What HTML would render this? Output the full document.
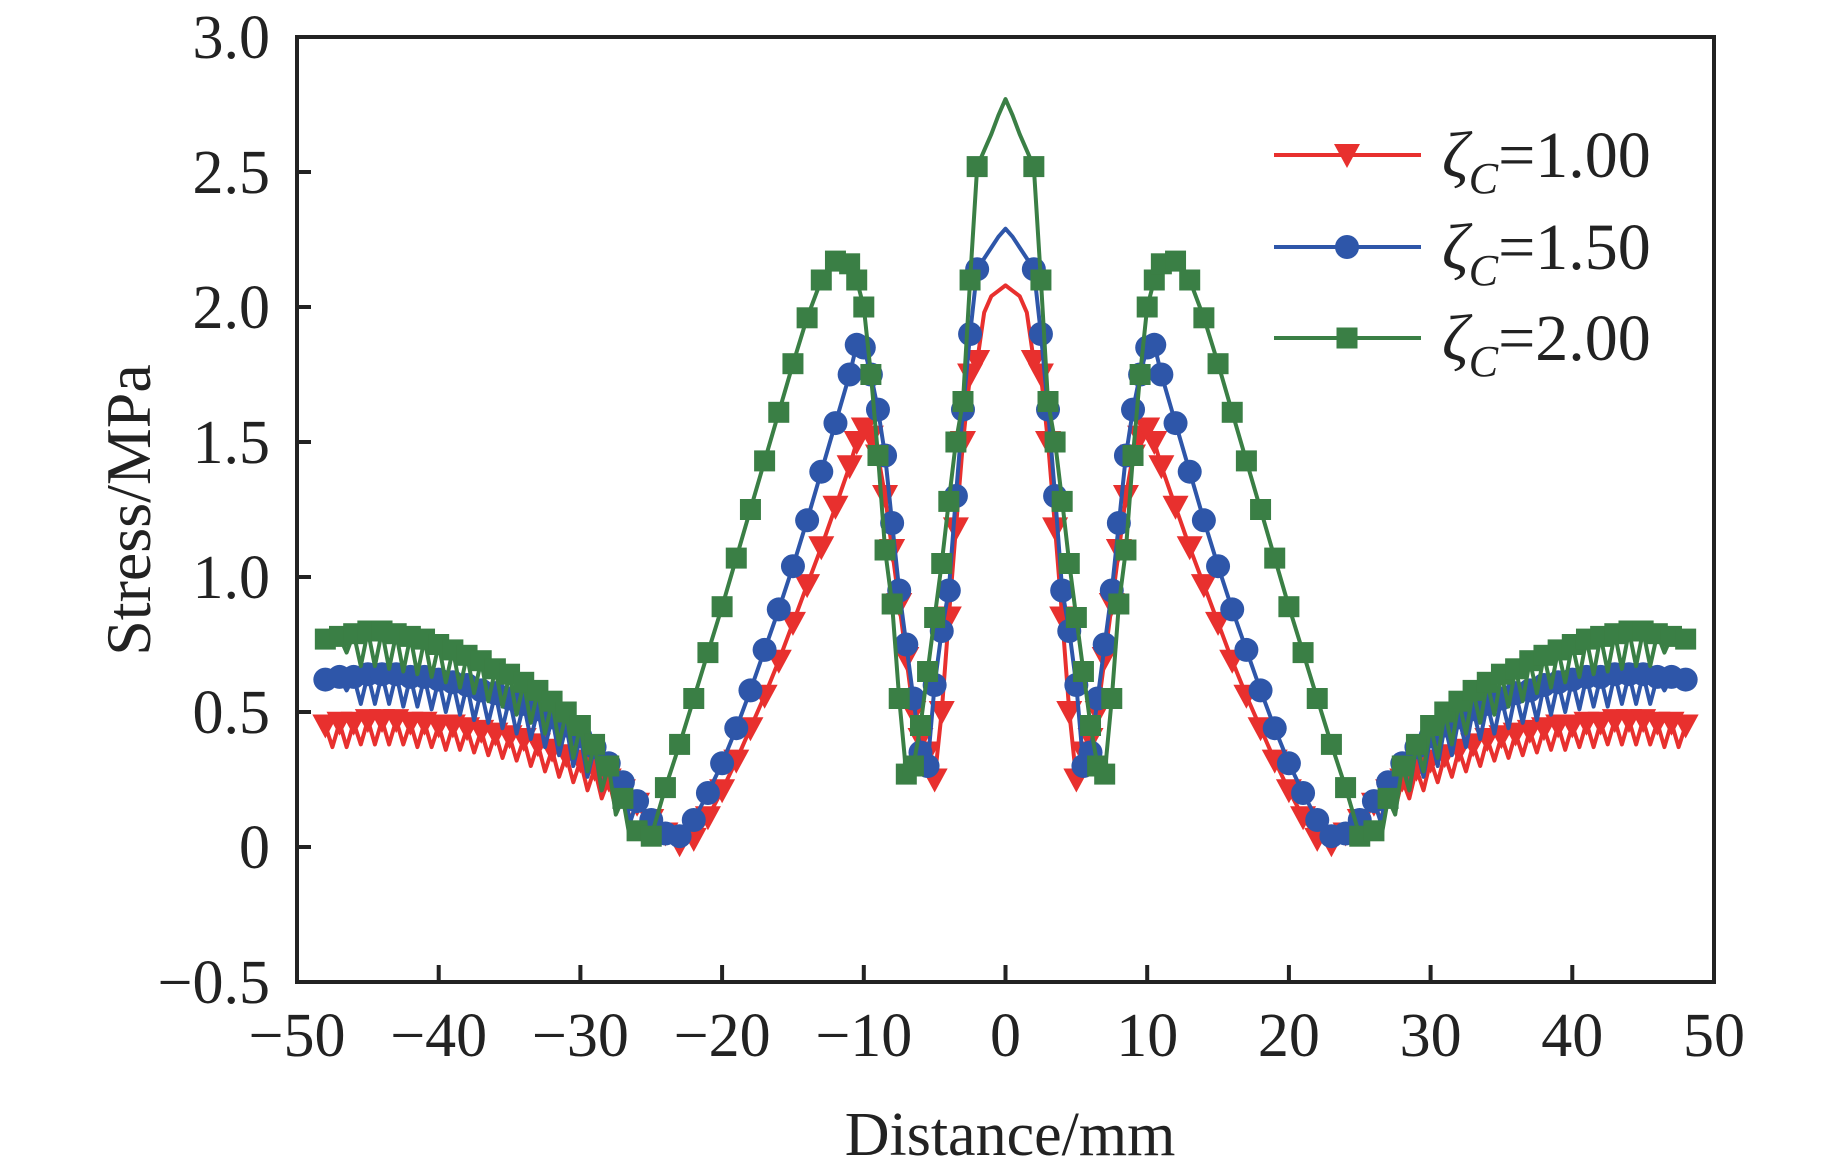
<!DOCTYPE html>
<html><head><meta charset="utf-8"><style>
html,body{margin:0;padding:0;background:#fff;}
svg{display:block;font-family:"Liberation Serif",serif;}
</style></head><body>
<svg id="chart" width="1843" height="1170" viewBox="0 0 1843 1170" xmlns="http://www.w3.org/2000/svg">
<rect x="0" y="0" width="1843" height="1170" fill="#fff"/>
<g id="series"></g>
<rect x="297" y="37" width="1417" height="945" fill="none" stroke="#222" stroke-width="4"/>
<g id="axes"></g>
<text transform="translate(150,510) rotate(-90)" text-anchor="middle" font-size="64" fill="#222">Stress/MPa</text>
<text x="1010" y="1155" text-anchor="middle" font-size="62" fill="#222">Distance/mm</text>
<g id="legend"></g>
</svg>
<script>
const xTicks=[-50,-40,-30,-20,-10,0,10,20,30,40,50];
const xTickLabels=["−50","−40","−30","−20","−10","0","10","20","30","40","50"];
const yTicks=[-0.5,0,0.5,1.0,1.5,2.0,2.5,3.0];
const yTickLabels=["−0.5","0","0.5","1.0","1.5","2.0","2.5","3.0"];
const xGrid=[-48,-47,-46,-45,-44,-43,-42,-41,-40,-39,-38,-37,-36,-35,-34,-33,-32,-31,-30,-29,-28,-27,-26,-25,-24,-23,-22,-21,-20,-19,-18,-17,-16,-15,-14,-13,-12,-11,
-10.5,-10,-9.5,-9,-8.5,-8,-7.5,-7,-6.5,-6,-5.5,-5,-4.5,-4,-3.5,-3,-2.5,-2,-1.5,-1,-0.5,0,0.5,1,1.5,2,2.5,3,3.5,4,4.5,5,5.5,6,6.5,7,7.5,8,8.5,9,9.5,10,10.5,
11,12,13,14,15,16,17,18,19,20,21,22,23,24,25,26,27,28,29,30,31,32,33,34,35,36,37,38,39,40,41,42,43,44,45,46,47,48];
const noMarkerX=[-1.5,-1,-0.5,0,0.5,1,1.5];
const redY=[.45,.46,.46,.47,.47,.47,.46,.46,.45,.45,.44,.43,.42,.41,.40,.38,.36,.34,.32,.29,.25,.21,.16,.10,.05,.01,.03,.11,.21,.32,.44,.56,.69,.83,.97,1.11,1.26,1.41,
1.5,1.55,1.52,1.45,1.3,1.1,.9,.7,.5,.4,.35,.25,.5,.85,1.18,1.5,1.75,1.8,1.98,2.04,2.06,2.08,2.06,2.04,1.98,1.8,1.75,1.5,1.18,.85,.5,.25,.35,.4,.5,.7,.9,1.1,1.3,1.45,1.52,1.55,1.5,
1.41,1.26,1.11,.97,.83,.69,.56,.44,.32,.21,.11,.03,.01,.05,.10,.16,.21,.25,.29,.32,.34,.36,.38,.40,.41,.42,.43,.44,.45,.45,.46,.46,.47,.47,.47,.46,.46,.45];
const blueY=[.62,.63,.63,.64,.64,.64,.63,.63,.62,.61,.60,.58,.57,.55,.53,.51,.48,.45,.41,.37,.31,.24,.17,.10,.05,.04,.10,.20,.31,.44,.58,.73,.88,1.04,1.21,1.39,1.57,1.75,
1.86,1.85,1.75,1.62,1.45,1.2,.95,.75,.55,.35,.30,.6,.8,.95,1.3,1.62,1.9,2.14,2.18,2.22,2.26,2.29,2.26,2.22,2.18,2.14,1.9,1.62,1.3,.95,.8,.6,.30,.35,.55,.75,.95,1.2,1.45,1.62,1.75,1.85,1.86,
1.75,1.57,1.39,1.21,1.04,.88,.73,.58,.44,.31,.20,.10,.04,.05,.10,.17,.24,.31,.37,.41,.45,.48,.51,.53,.55,.57,.58,.60,.61,.62,.63,.63,.64,.64,.64,.63,.63,.62];
const greenY=[.77,.78,.79,.80,.80,.79,.78,.77,.75,.73,.71,.69,.66,.64,.61,.58,.54,.50,.45,.38,.30,.18,.06,.04,.22,.38,.55,.72,.89,1.07,1.25,1.43,1.61,1.79,1.96,2.10,2.17,2.16,
2.1,2.0,1.75,1.45,1.1,.9,.55,.27,.3,.45,.65,.85,1.05,1.28,1.5,1.65,2.1,2.52,2.58,2.64,2.71,2.77,2.71,2.64,2.58,2.52,2.1,1.65,1.5,1.28,1.05,.85,.65,.45,.3,.27,.55,.9,1.1,1.45,1.75,2.0,2.1,
2.16,2.17,2.10,1.96,1.79,1.61,1.43,1.25,1.07,.89,.72,.55,.38,.22,.04,.06,.18,.30,.38,.45,.50,.54,.58,.61,.64,.66,.69,.71,.73,.75,.77,.78,.79,.80,.80,.79,.78,.77];
const dipX=[-47.5,-46.5,-45.5,-44.5,-43.5,-42.5,-41.5,-40.5,-39.5,-38.5,-37.5,-36.5,-35.5,-34.5,-33.5,-32.5,-31.5,-30.5,-29.5,-28.5,-27.5,-26.5,
26.5,27.5,28.5,29.5,30.5,31.5,32.5,33.5,34.5,35.5,36.5,37.5,38.5,39.5,40.5,41.5,42.5,43.5,44.5,45.5,46.5,47.5];
const redDip=[.37,.37,.38,.38,.38,.38,.37,.37,.36,.36,.35,.34,.33,.32,.30,.28,.26,.24,.21,.18,.14,.10,
.10,.14,.18,.21,.24,.26,.28,.30,.32,.33,.34,.35,.36,.36,.37,.37,.38,.38,.38,.38,.37,.37];
const blueDip=[.60,.58,.53,.53,.53,.52,.52,.51,.50,.49,.47,.46,.44,.42,.40,.37,.34,.30,.26,.21,.15,.09,
.09,.15,.21,.26,.30,.34,.37,.40,.42,.44,.46,.47,.49,.50,.51,.52,.52,.53,.53,.53,.58,.60];
const greenDip=[.74,.72,.67,.67,.66,.65,.64,.63,.61,.59,.57,.54,.52,.49,.46,.42,.38,.33,.28,.21,.12,.03,
.03,.12,.21,.28,.33,.38,.42,.46,.49,.52,.54,.57,.59,.61,.63,.64,.65,.66,.67,.67,.72,.74];

const NS="http://www.w3.org/2000/svg";
const X0=297,X1=1714,Y0=982,Y1=37;
function sx(v){return X0+(v+50)/100*(X1-X0);}
function sy(v){return Y0-(v+0.5)/3.5*(Y0-Y1);}
function mk(tag,attrs,parent){const e=document.createElementNS(NS,tag);for(const k in attrs)e.setAttribute(k,attrs[k]);parent.appendChild(e);return e;}

const axes=document.getElementById('axes');
xTicks.forEach((t,i)=>{
  const l=mk('line',{x1:sx(t),x2:sx(t),y1:Y0,y2:Y0-17,stroke:'#222','stroke-width':4},axes);
  
  
  const tx=mk('text',{x:sx(t),y:1056,'text-anchor':'middle','font-size':62,fill:'#222'},axes);
  
  
  tx.textContent=xTickLabels[i];
});
yTicks.forEach((t,i)=>{
  const l=mk('line',{x1:X0,x2:X0+14,y1:sy(t),y2:sy(t),stroke:'#222','stroke-width':4},axes);
  
  
  const tx=mk('text',{x:270,y:sy(t)+21,'text-anchor':'end','font-size':62,fill:'#222'},axes);
  
  
  tx.textContent=yTickLabels[i];
});

function marker(type,cx,cy,color,parent){
  let e;
  if(type==='tri'){e=mk('polygon',{points:`${cx-13},${cy-11} ${cx+13},${cy-11} ${cx},${cy+13}`,fill:color},parent);}
  else if(type==='circ'){e=mk('circle',{cx:cx,cy:cy,r:12,fill:color},parent);}
  else {e=mk('rect',{x:cx-10.5,y:cy-10.5,width:21,height:21,fill:color},parent);}
  return e;
}
const seriesLayer=document.getElementById('series');
const seriesDefs=[
  {name:'series-zeta-1-00',ys:redY,dips:redDip,color:'#e8302e',m:'tri'},
  {name:'series-zeta-1-50',ys:blueY,dips:blueDip,color:'#2e56a9',m:'circ'},
  {name:'series-zeta-2-00',ys:greenY,dips:greenDip,color:'#3a7f45',m:'sq'}
];
seriesDefs.forEach(s=>{
  const g=mk('g',{},seriesLayer);
  
  
  const pts=xGrid.map((x,i)=>({x:x,y:s.ys[i]}));
  dipX.forEach((x,i)=>pts.push({x:x,y:s.dips[i]}));
  pts.sort((a,b)=>a.x-b.x);
  const d=pts.map((p,i)=>(i?'L':'M')+sx(p.x).toFixed(1)+','+sy(p.y).toFixed(1)).join(' ');
  const path=mk('path',{d:d,fill:'none',stroke:s.color,'stroke-width':4,'stroke-linejoin':'round'},g);
  
  
  xGrid.forEach((x,i)=>{
    if(noMarkerX.includes(x))return;
    const e=marker(s.m,sx(x),sy(s.ys[i]),s.color,g);
    
    
  });
});

const legend=document.getElementById('legend');
const legendLabels=["=1.00","=1.50","=2.00"];
const legendY=[155,247,338];
seriesDefs.forEach((s,i)=>{
  const g=mk('g',{},legend);
  
  
  mk('line',{x1:1274,x2:1421,y1:legendY[i],y2:legendY[i],stroke:s.color,'stroke-width':4},g);
  marker(s.m,1347,legendY[i],s.color,g);
  const t=mk('text',{x:1442,y:legendY[i]+22,'font-size':66,fill:'#222'},g);
  const z=mk('tspan',{'font-style':'italic'},t); z.textContent='ζ';
  const c=mk('tspan',{'font-style':'italic','font-size':44,dy:16},t); c.textContent='C';
  const r=mk('tspan',{dy:-16},t); r.textContent=legendLabels[i];
});
</script>
</body></html>
